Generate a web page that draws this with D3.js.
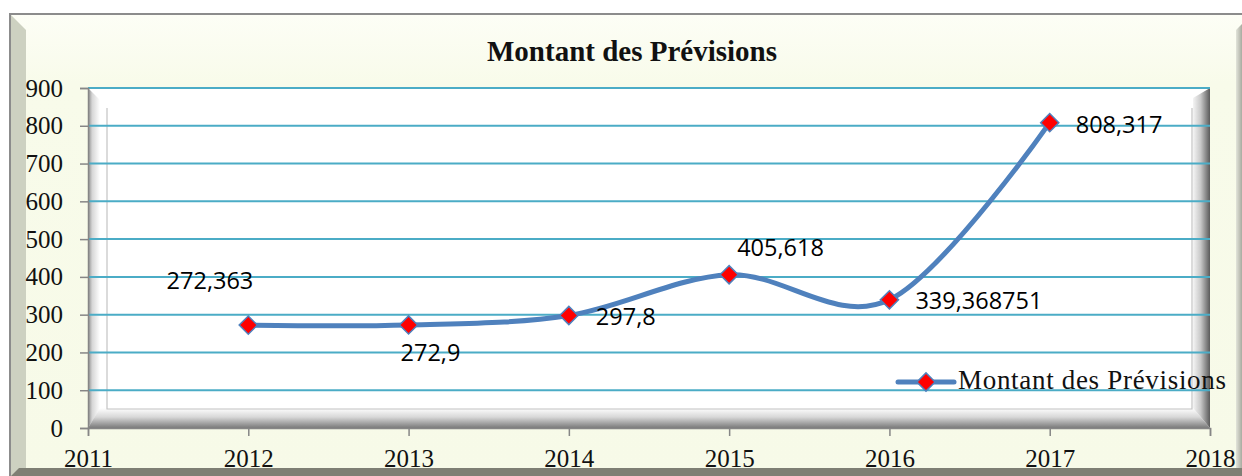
<!DOCTYPE html>
<html lang="fr">
<head>
<meta charset="utf-8">
<title>Montant des Prévisions</title>
<script src="https://d3js.org/d3.v7.min.js"></script>
<style>
  body { margin: 0; background: #fff; }
  svg { display: block; }
  .tick text { font-family: "Liberation Serif", "DejaVu Serif", serif; font-size: 25px; fill: #111; }
  .tick line, .domain { stroke: #868686; stroke-width: 1.5; }
  .lbl { font-family: "Open Sans", "Liberation Sans", sans-serif; font-size: 23.5px; fill: #000; }
</style>
</head>
<body>
<svg id="chart" width="1242" height="476"></svg>
<script>
// data
const years = [2012, 2013, 2014, 2015, 2016, 2017];
const amounts = [272.363, 272.9, 297.8, 405.618, 339.368751, 808.317];
const amountLabels = ["272,363", "272,9", "297,8", "405,618", "339,368751", "808,317"];
const yTicks = [0, 100, 200, 300, 400, 500, 600, 700, 800, 900];
const xTicks = [2011, 2012, 2013, 2014, 2015, 2016, 2017, 2018];
const seriesName = "Montant des Prévisions";

// label placement relative to each point
const labelPos = [
  { anchor: "end", dx: 5, dy: -36 },
  { anchor: "start", dx: -8, dy: 36 },
  { anchor: "start", dx: 27, dy: 10 },
  { anchor: "start", dx: 8, dy: -19 },
  { anchor: "start", dx: 26, dy: 9 },
  { anchor: "start", dx: 26, dy: 10 }
];

const svg = d3.select("#chart");
const plot = { left: 88, right: 1210, top: 88, bottom: 428 };

const x = d3.scaleLinear().domain([2011, 2018]).range([plot.left, plot.right]);
const y = d3.scaleLinear().domain([0, 900]).range([plot.bottom, plot.top]);

// gradients
const defs = svg.append("defs");
function grad(id, x1, y1, x2, y2, stops) {
  const g = defs.append("linearGradient").attr("id", id)
    .attr("x1", x1).attr("y1", y1).attr("x2", x2).attr("y2", y2);
  stops.forEach(s => g.append("stop").attr("offset", s[0]).attr("stop-color", s[1]));
}
grad("bg", 0, 0, 0, 1, [[0, "#fdfef6"], [0.15, "#f8fbea"], [1, "#f7fae8"]]);
grad("bevL", 0, 0, 1, 0, [[0, "#8a8a8a"], [0.35, "#d6d6d6"], [1, "#ffffff"]]);
grad("bevB", 0, 0, 0, 1, [[0, "#ffffff"], [0.45, "#d8d8d8"], [1, "#7a7a7a"]]);
grad("bevR", 0, 0, 1, 0, [[0, "#f4f4f4"], [0.45, "#c8c8c8"], [1, "#5a5a5a"]]);
grad("outR", 0, 0, 1, 0, [[0, "#e2e4da"], [1, "#a9aba0"]]);

// outer frame
svg.append("rect").attr("x", 10).attr("y", 14).attr("width", 1232).attr("height", 462)
  .attr("fill", "url(#bg)");
svg.append("polygon").attr("points", "11,15 26,30 26,476 11,476").attr("fill", "#cdd1c1");
svg.append("polygon").attr("points", "1236,30 1242,24 1242,476 1236,476").attr("fill", "url(#outR)");
svg.append("polygon").attr("points", "19,468 1242,468 1242,476 11,476").attr("fill", "#7e7f74");
svg.append("path").attr("d", "M10,476 V14 H1242").attr("fill", "none")
  .attr("stroke", "#8c8c8c").attr("stroke-width", 2);

// plot area with bevel
svg.append("rect").attr("x", plot.left).attr("y", plot.top)
  .attr("width", plot.right - plot.left).attr("height", plot.bottom - plot.top).attr("fill", "#fff");
svg.append("polygon").attr("points", `${plot.left},${plot.top} 100,100 100,409 ${plot.left},${plot.bottom}`)
  .attr("fill", "url(#bevL)");
svg.append("polygon").attr("points", `${plot.left},${plot.bottom} 100,408 1193,408 ${plot.right},${plot.bottom}`)
  .attr("fill", "url(#bevB)");
svg.append("polygon").attr("points", `1193,98 ${plot.right},${plot.top} ${plot.right},${plot.bottom} 1193,408`)
  .attr("fill", "url(#bevR)");
svg.append("path").attr("d", "M107,108 V409 H1192 V108").attr("fill", "none")
  .attr("stroke", "#c4c4c4").attr("stroke-width", 1.2);

// gridlines
svg.append("g").selectAll("line").data(yTicks.filter(d => d > 0)).join("line")
  .attr("x1", plot.left).attr("x2", plot.right)
  .attr("y1", d => y(d)).attr("y2", d => y(d))
  .attr("stroke", "#4bacc6").attr("stroke-width", 2);

// axes
svg.append("g").attr("transform", `translate(${plot.left},0)`)
  .call(d3.axisLeft(y).tickValues(yTicks).tickSize(8).tickPadding(17).tickFormat(d3.format("d")));
svg.append("g").attr("transform", `translate(0,${plot.bottom})`)
  .call(d3.axisBottom(x).tickValues(xTicks).tickSize(8).tickPadding(13).tickFormat(d3.format("d")));

// title
svg.append("text").attr("x", 632).attr("y", 61).attr("text-anchor", "middle")
  .style("font-family", "'Liberation Serif', serif").style("font-weight", "bold")
  .style("font-size", "29px").attr("fill", "#111").text(seriesName);

// series line
const pts = years.map((yr, i) => [x(yr), y(amounts[i])]);
svg.append("path").datum(pts)
  .attr("d", d3.line().curve(d3.curveCardinal))
  .attr("fill", "none").attr("stroke", "#4f81bd").attr("stroke-width", 5)
  .attr("stroke-linecap", "round");

const marker = d3.symbol().type(d3.symbolSquare).size(165);
svg.append("g").selectAll("path").data(pts).join("path")
  .attr("d", marker)
  .attr("transform", d => `translate(${d[0]},${d[1]}) rotate(45)`)
  .attr("fill", "#ff0000").attr("stroke", "#4f81bd").attr("stroke-width", 1.5);

// data labels
svg.append("g").selectAll("text").data(pts).join("text")
  .attr("class", "lbl")
  .attr("x", (d, i) => d[0] + labelPos[i].dx)
  .attr("y", (d, i) => d[1] + labelPos[i].dy)
  .attr("text-anchor", (d, i) => labelPos[i].anchor)
  .text((d, i) => amountLabels[i]);

// legend
const lg = svg.append("g").attr("transform", "translate(898,382)");
lg.append("line").attr("x1", 0).attr("x2", 56).attr("y1", 0).attr("y2", 0)
  .attr("stroke", "#4f81bd").attr("stroke-width", 5).attr("stroke-linecap", "round");
lg.append("path").attr("d", marker).attr("transform", "translate(28,0) rotate(45)")
  .attr("fill", "#ff0000").attr("stroke", "#4f81bd").attr("stroke-width", 1.5);
lg.append("text").attr("x", 60).attr("y", 7)
  .attr("textLength", 268).attr("lengthAdjust", "spacing")
  .style("font-family", "'Liberation Serif', serif").style("font-size", "27px")
  .attr("fill", "#111").text(seriesName);
</script>
</body>
</html>
